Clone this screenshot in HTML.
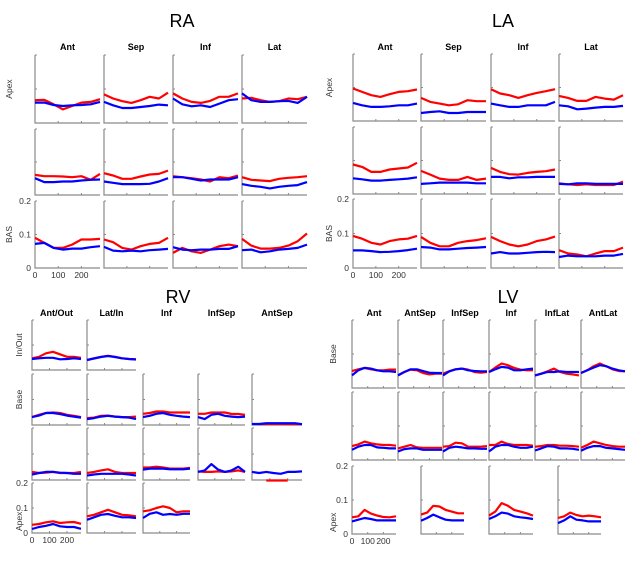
<!DOCTYPE html>
<html><head><meta charset="utf-8">
<style>
html,body{margin:0;padding:0;background:#fff;}
svg{display:block;font-family:"Liberation Sans",Arial,sans-serif;}
</style></head>
<body>
<svg id="fig" width="633" height="563" viewBox="0 0 633 563" xmlns="http://www.w3.org/2000/svg"></svg>
<script>
// ---- data (x samples, y values 0..0.2) ----
const xSamples = [0,40,80,120,160,200,240,280];
const yTicks = [0,0.1,0.2];
const yTickLabels = ['0','0.1','0.2'];
const xTicks = [0,100,200];
const xTickLabels = ['0','100','200'];

const raCols = ['Ant','Sep','Inf','Lat'];
const laCols = ['Ant','Sep','Inf','Lat'];
const rvCols = ['Ant/Out','Lat/In','Inf','InfSep','AntSep'];
const lvCols = ['Ant','AntSep','InfSep','Inf','InfLat','AntLat'];

const raRed = [
[0.067,0.068,0.055,0.040,0.050,0.060,0.062,0.070],
[0.084,0.072,0.064,0.059,0.067,0.077,0.072,0.089],
[0.087,0.072,0.062,0.059,0.065,0.077,0.077,0.087],
[0.072,0.074,0.067,0.062,0.064,0.072,0.070,0.077],
[0.061,0.057,0.057,0.056,0.054,0.057,0.046,0.064],
[0.066,0.059,0.049,0.049,0.056,0.062,0.064,0.074],
[0.057,0.054,0.051,0.047,0.041,0.054,0.051,0.059],
[0.054,0.046,0.044,0.042,0.049,0.052,0.054,0.057],
[0.090,0.075,0.060,0.060,0.070,0.085,0.085,0.087],
[0.085,0.077,0.060,0.055,0.065,0.072,0.075,0.090],
[0.045,0.060,0.050,0.045,0.055,0.065,0.070,0.065],
[0.087,0.067,0.058,0.058,0.060,0.067,0.080,0.103]];
const raBlue = [
[0.060,0.060,0.053,0.050,0.052,0.053,0.055,0.062],
[0.062,0.052,0.044,0.044,0.047,0.050,0.054,0.052],
[0.072,0.055,0.049,0.052,0.047,0.057,0.067,0.070],
[0.087,0.067,0.062,0.062,0.064,0.065,0.059,0.077],
[0.051,0.039,0.039,0.041,0.041,0.044,0.046,0.047],
[0.041,0.037,0.033,0.033,0.033,0.034,0.041,0.051],
[0.054,0.054,0.049,0.044,0.047,0.047,0.047,0.054],
[0.033,0.028,0.025,0.020,0.025,0.028,0.030,0.039],
[0.072,0.075,0.060,0.055,0.058,0.058,0.062,0.065],
[0.063,0.052,0.050,0.052,0.050,0.053,0.055,0.057],
[0.062,0.055,0.053,0.055,0.055,0.057,0.057,0.065],
[0.053,0.055,0.047,0.050,0.055,0.057,0.060,0.070]];

const laRed = [
[0.097,0.087,0.077,0.072,0.080,0.087,0.089,0.094],
[0.069,0.057,0.052,0.047,0.050,0.062,0.059,0.059],
[0.095,0.082,0.077,0.069,0.077,0.084,0.089,0.095],
[0.075,0.069,0.060,0.060,0.072,0.067,0.064,0.077],
[0.088,0.081,0.066,0.066,0.073,0.076,0.079,0.093],
[0.069,0.058,0.046,0.042,0.042,0.051,0.042,0.046],
[0.078,0.066,0.059,0.058,0.063,0.066,0.068,0.073],
[0.032,0.029,0.027,0.029,0.027,0.027,0.027,0.037],
[0.093,0.085,0.073,0.068,0.078,0.083,0.085,0.093],
[0.090,0.073,0.063,0.063,0.073,0.078,0.081,0.086],
[0.090,0.078,0.068,0.063,0.068,0.078,0.083,0.091],
[0.052,0.042,0.039,0.034,0.042,0.049,0.049,0.059]];
const laBlue = [
[0.054,0.047,0.042,0.042,0.044,0.047,0.047,0.052],
[0.024,0.027,0.029,0.024,0.024,0.027,0.027,0.027],
[0.052,0.047,0.042,0.042,0.047,0.047,0.047,0.057],
[0.047,0.044,0.035,0.037,0.040,0.042,0.042,0.045],
[0.047,0.044,0.040,0.040,0.042,0.044,0.046,0.050],
[0.030,0.032,0.034,0.034,0.034,0.034,0.032,0.032],
[0.051,0.051,0.047,0.050,0.050,0.051,0.051,0.051],
[0.030,0.029,0.032,0.032,0.030,0.030,0.030,0.030],
[0.051,0.051,0.049,0.046,0.047,0.049,0.052,0.056],
[0.061,0.059,0.054,0.054,0.056,0.058,0.059,0.061],
[0.042,0.046,0.042,0.042,0.044,0.046,0.047,0.046],
[0.032,0.036,0.034,0.034,0.034,0.036,0.036,0.041]];

const rvRed = [
[0.047,0.053,0.067,0.073,0.063,0.053,0.053,0.049],
[0.040,0.047,0.053,0.057,0.053,0.047,0.044,0.043],
[0.031,0.040,0.047,0.049,0.047,0.040,0.036,0.031],
[0.027,0.029,0.036,0.037,0.033,0.031,0.031,0.033],
[0.044,0.047,0.053,0.053,0.049,0.049,0.049,0.049],
[0.044,0.044,0.049,0.049,0.049,0.043,0.043,0.040],
[null,0.003,0.004,0.004,0.004,0.003,0.003,0.003],
[0.031,0.027,0.028,0.031,0.027,0.027,0.027,0.031],
[0.027,0.031,0.037,0.041,0.031,0.027,0.027,0.027],
[0.048,0.048,0.051,0.048,0.044,0.044,0.044,0.047],
[0.033,0.031,0.031,0.033,0.031,0.033,0.037,0.031],
[null,null,-0.002,-0.002,-0.002,-0.002,null,null],
[0.033,0.036,0.043,0.047,0.040,0.043,0.044,0.037],
[0.067,0.073,0.083,0.093,0.083,0.073,0.071,0.067],
[0.087,0.091,0.100,0.107,0.100,0.083,0.087,0.087]];
const rvBlue = [
[0.044,0.047,0.049,0.049,0.043,0.044,0.047,0.044],
[0.040,0.046,0.052,0.056,0.052,0.047,0.044,0.042],
[0.031,0.037,0.047,0.047,0.043,0.037,0.033,0.029],
[0.023,0.027,0.033,0.036,0.033,0.031,0.029,0.023],
[0.031,0.036,0.044,0.047,0.040,0.036,0.033,0.031],
[0.031,0.023,0.040,0.044,0.036,0.033,0.031,0.033],
[0.004,0.004,0.007,0.007,0.007,0.007,0.007,0.003],
[0.021,0.027,0.031,0.031,0.028,0.027,0.024,0.024],
[0.017,0.021,0.024,0.024,0.024,0.024,0.021,0.017],
[0.040,0.044,0.044,0.044,0.041,0.041,0.041,0.044],
[0.031,0.037,0.061,0.040,0.031,0.037,0.051,0.031],
[0.031,0.027,0.031,0.027,0.024,0.031,0.031,0.033],
[0.016,0.024,0.029,0.036,0.027,0.024,0.024,0.017],
[0.053,0.063,0.073,0.076,0.069,0.063,0.063,0.060],
[0.060,0.077,0.083,0.073,0.076,0.073,0.077,0.077]];

const lvRed = [
[0.050,0.055,0.059,0.055,0.052,0.052,0.054,0.054],
[0.037,0.047,0.054,0.052,0.044,0.040,0.042,0.042],
[0.042,0.049,0.055,0.057,0.054,0.047,0.045,0.047],
[0.047,0.060,0.072,0.067,0.059,0.054,0.052,0.052],
[0.037,0.042,0.049,0.057,0.047,0.042,0.040,0.037],
[0.044,0.052,0.064,0.072,0.064,0.055,0.050,0.049],
[0.041,0.046,0.054,0.049,0.046,0.044,0.044,0.042],
[0.034,0.039,0.044,0.037,0.036,0.036,0.036,0.036],
[0.039,0.041,0.051,0.049,0.039,0.039,0.039,0.041],
[0.044,0.044,0.054,0.047,0.044,0.044,0.044,0.042],
[0.039,0.041,0.044,0.044,0.042,0.042,0.041,0.039],
[0.036,0.044,0.054,0.049,0.044,0.041,0.039,0.039],
[0.049,0.052,0.071,0.060,0.054,0.050,0.049,0.052],
[0.057,0.063,0.083,0.081,0.071,0.066,0.061,0.061],
[0.054,0.066,0.091,0.083,0.071,0.066,0.061,0.054],
[0.047,0.052,0.063,0.056,0.052,0.054,0.052,0.049]];
const lvBlue = [
[0.037,0.052,0.059,0.057,0.052,0.049,0.049,0.047],
[0.037,0.047,0.055,0.055,0.050,0.045,0.044,0.044],
[0.037,0.049,0.055,0.057,0.052,0.050,0.049,0.049],
[0.047,0.055,0.062,0.060,0.052,0.052,0.055,0.057],
[0.037,0.042,0.047,0.047,0.049,0.047,0.047,0.047],
[0.044,0.052,0.060,0.067,0.064,0.057,0.052,0.049],
[0.030,0.039,0.044,0.044,0.037,0.036,0.034,0.034],
[0.025,0.032,0.034,0.034,0.030,0.030,0.030,0.030],
[0.025,0.036,0.039,0.037,0.034,0.034,0.033,0.033],
[0.025,0.039,0.044,0.044,0.039,0.036,0.036,0.039],
[0.028,0.034,0.041,0.039,0.034,0.034,0.033,0.030],
[0.027,0.036,0.041,0.041,0.036,0.034,0.032,0.030],
[0.037,0.042,0.047,0.044,0.040,0.040,0.040,0.040],
[0.039,0.047,0.057,0.049,0.042,0.040,0.040,0.040],
[0.044,0.052,0.063,0.060,0.052,0.049,0.047,0.044],
[0.032,0.040,0.052,0.042,0.040,0.037,0.037,0.037]];

const NS='http://www.w3.org/2000/svg';
const svg=document.getElementById('fig');
function mk(tag,attrs,parent){const e=document.createElementNS(NS,tag);for(const k in attrs)e.setAttribute(k,attrs[k]);(parent||svg).appendChild(e);return e;}
function txt(s,attrs,parent){const e=mk('text',attrs,parent);e.textContent=s;return e;}

const regions=[
 {key:'ra',title:'RA',tx:182,ty:27,cols:raCols,colX:[[35,100],[104,168],[173,238],[242,307]],
  rowY:[[55,123],[129,195],[201,268]],cells:[[0,0],[0,1],[0,2],[0,3],[1,0],[1,1],[1,2],[1,3],[2,0],[2,1],[2,2],[2,3]],
  red:raRed,blue:raBlue,labelled:8,rowLabels:[['Apex',0],['BAS',2]],rlx:12,titleY:50},
 {key:'la',title:'LA',tx:503,ty:27,cols:laCols,colX:[[353,417],[421,486],[491,555],[559,623]],
  rowY:[[54,121],[127,194],[199,268]],cells:[[0,0],[0,1],[0,2],[0,3],[1,0],[1,1],[1,2],[1,3],[2,0],[2,1],[2,2],[2,3]],
  red:laRed,blue:laBlue,labelled:8,rowLabels:[['Apex',0],['BAS',2]],rlx:332,titleY:50},
 {key:'rv',title:'RV',tx:178,ty:303,cols:rvCols,colX:[[32,81],[87,136],[143,190],[198,245],[252,302]],
  rowY:[[320,370],[374,425],[428,480],[483,533]],
  cells:[[0,0],[0,1],[1,0],[1,1],[1,2],[1,3],[1,4],[2,0],[2,1],[2,2],[2,3],[2,4],[3,0],[3,1],[3,2]],
  red:rvRed,blue:rvBlue,labelled:12,rowLabels:[['In/Out',0],['Base',1],['Apex',3,'end']],rlx:22,titleY:316},
 {key:'lv',title:'LV',tx:508,ty:303,cols:lvCols,colX:[[352,396],[398,442],[443,487],[489,533],[535,579],[581,625]],
  rowY:[[320,388],[392,460],[466,534]],
  cells:[[0,0],[0,1],[0,2],[0,3],[0,4],[0,5],[1,0],[1,1],[1,2],[1,3],[1,4],[1,5],[2,0],[2,1,[421,464]],[2,3],[2,4,[558,601]]],
  red:lvRed,blue:lvBlue,labelled:12,rowLabels:[['Base',0],['Apex',2,'end']],rlx:336,titleY:316}
];

regions.forEach(R=>{
  const g=mk('g',{});
  
  
  const t=txt(R.title,{x:R.tx,y:R.ty,'font-size':18,'text-anchor':'middle',fill:'#000'},g);
  
  
  R.cols.forEach((c,i)=>{
    const cx=(R.colX[i][0]+R.colX[i][1])/2;
    const ct=txt(c,{x:cx,y:R.titleY,'font-size':9,'font-weight':'bold','text-anchor':'middle',fill:'#000'},g);
    
    
  });
  R.rowLabels.forEach(rl=>{
    const ry=R.rowY[rl[1]];
    const cy = rl[2]==='end' ? ry[1]-2 : (ry[0]+ry[1])/2;
    const lt=txt(rl[0],{x:0,y:0,'font-size':8.5,'text-anchor':rl[2]==='end'?'start':'middle',fill:'#333',
      transform:`translate(${R.rlx},${cy}) rotate(-90)`},g);
    
    
  });
  R.cells.forEach((cell,idx)=>{
    const [r,c,ov]=cell;
    const [x0,x1]=ov||R.colX[c];
    const [y0,y1]=R.rowY[r];
    const sx=v=>x0+(v/280)*(x1-x0);
    const sy=v=>y1-(v/0.2)*(y1-y0);
    const pg=mk('g',{},g);
    
    
    const ax=mk('path',{d:`M${x0},${y0}V${y1}H${x1}`,stroke:'#8a8a8a','stroke-width':1.2,fill:'none'},pg);
    
    
    xTicks.forEach((v,i)=>{
      const tk=mk('line',{x1:sx(v),x2:sx(v),y1:y1,y2:y1-2,stroke:'#8a8a8a','stroke-width':1},pg);
      
      
    });
    yTicks.forEach((v,i)=>{
      const tk=mk('line',{x1:x0,x2:x0+2,y1:sy(v),y2:sy(v),stroke:'#8a8a8a','stroke-width':1},pg);
      
      
    });
    if(idx===R.labelled){
      xTicks.forEach((v,i)=>{
        const l=txt(xTickLabels[i],{x:sx(v),y:y1+10,'font-size':8.5,'text-anchor':'middle',fill:'#333'},pg);
        
        
      });
      yTicks.forEach((v,i)=>{
        const l=txt(yTickLabels[i],{x:x0-4,y:sy(v)+3,'font-size':8.5,'text-anchor':'end',fill:'#333'},pg);
        
        
      });
    }
    [['red',R.red[idx],'#ff0000'],['blue',R.blue[idx],'#0000ff']].forEach(([nm,arr,col])=>{
      let d='',pen=false;
      arr.forEach((v,i)=>{
        if(v===null){pen=false;return;}
        d+=(pen?'L':'M')+sx(xSamples[i]).toFixed(1)+','+sy(v).toFixed(1);
        pen=true;
      });
      const p=mk('path',{d:d,stroke:col,'stroke-width':2.2,fill:'none','stroke-linejoin':'round'},pg);
      
      
    });
  });
  svg.appendChild(g);
});
</script>
</body></html>
